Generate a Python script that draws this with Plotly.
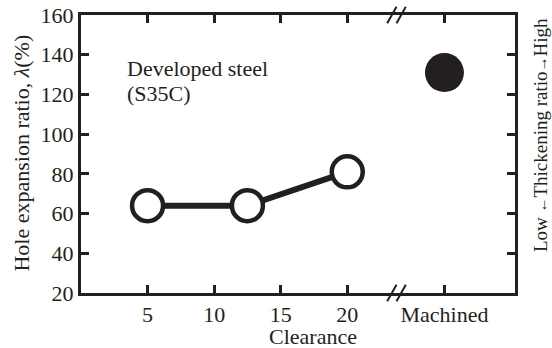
import plotly.graph_objects as go

clearance = [5, 12.5, 20]
hole_expansion = [64, 64, 81]
machined_pos = [27.3]
machined_value = [131]
tick_vals = [5, 10, 15, 20, 27.3]
tick_text = ["5", "10", "15", "20", "Machined"]
break_pos = 23.7

INK = "#231f20"
FONT = "Liberation Serif"
FS = 22

fig = go.Figure()
fig.add_trace(go.Scatter(
    x=clearance, y=hole_expansion, mode="lines+markers",
    line=dict(color=INK, width=6),
    marker=dict(size=31, color="white", line=dict(color=INK, width=4.5)),
    showlegend=False, cliponaxis=False, hoverinfo="skip"))
fig.add_trace(go.Scatter(
    x=machined_pos, y=machined_value, mode="markers",
    marker=dict(size=39, color=INK, line=dict(width=0)),
    showlegend=False, cliponaxis=False, hoverinfo="skip"))

axis_common = dict(showline=True, linecolor=INK, linewidth=3, mirror="ticks",
                   ticks="inside", ticklen=8, tickwidth=2.5, tickcolor=INK,
                   showgrid=False, zeroline=False, automargin=False,
                   tickfont=dict(family=FONT, size=FS, color=INK))
fig.update_xaxes(range=[0, 32.6], tickvals=tick_vals, ticktext=tick_text, **axis_common)
fig.update_yaxes(range=[20, 160], dtick=20, tick0=20, **axis_common)

# axis break marks
for yv in (0, 1):
    for dx in (-0.35, 0.35):
        fig.add_shape(type="line", xref="x", yref="paper",
                      x0=break_pos + dx - 0.35, x1=break_pos + dx + 0.35,
                      y0=yv - 0.03, y1=yv + 0.03,
                      line=dict(color=INK, width=2))

font = dict(family=FONT, size=FS, color=INK)
fig.add_annotation(text="Developed steel", xref="paper", yref="paper",
                   x=0.101, y=0.809, xanchor="left", yanchor="middle",
                   showarrow=False, font=font)
fig.add_annotation(text="(S35C)", xref="paper", yref="paper",
                   x=0.101, y=0.719, xanchor="left", yanchor="middle",
                   showarrow=False, font=font)
fig.add_annotation(text="Hole expansion ratio, <i>λ</i>(%)", xref="paper", yref="paper",
                   x=-0.136, y=0.505, xanchor="center", yanchor="middle", textangle=-90,
                   showarrow=False, font=font)
fig.add_annotation(text="Low <span style='font-size:15px'>←</span>Thickening ratio<span style='font-size:15px'>→</span>High",
                   xref="paper", yref="paper",
                   x=1.0576, y=0.568, xanchor="center", yanchor="middle", textangle=-90,
                   showarrow=False, font=dict(family=FONT, size=19, color=INK))
fig.add_annotation(text="Clearance", xref="paper", yref="paper",
                   x=0.535, y=-0.155, xanchor="center", yanchor="middle",
                   showarrow=False, font=font)

fig.update_layout(width=552, height=348, margin=dict(l=81, r=37, t=15, b=55),
                  plot_bgcolor="white", paper_bgcolor="white", hovermode=False)
fig.write_html("out.html", config={"displayModeBar": False},
               post_script="document.body.style.margin='0';")
